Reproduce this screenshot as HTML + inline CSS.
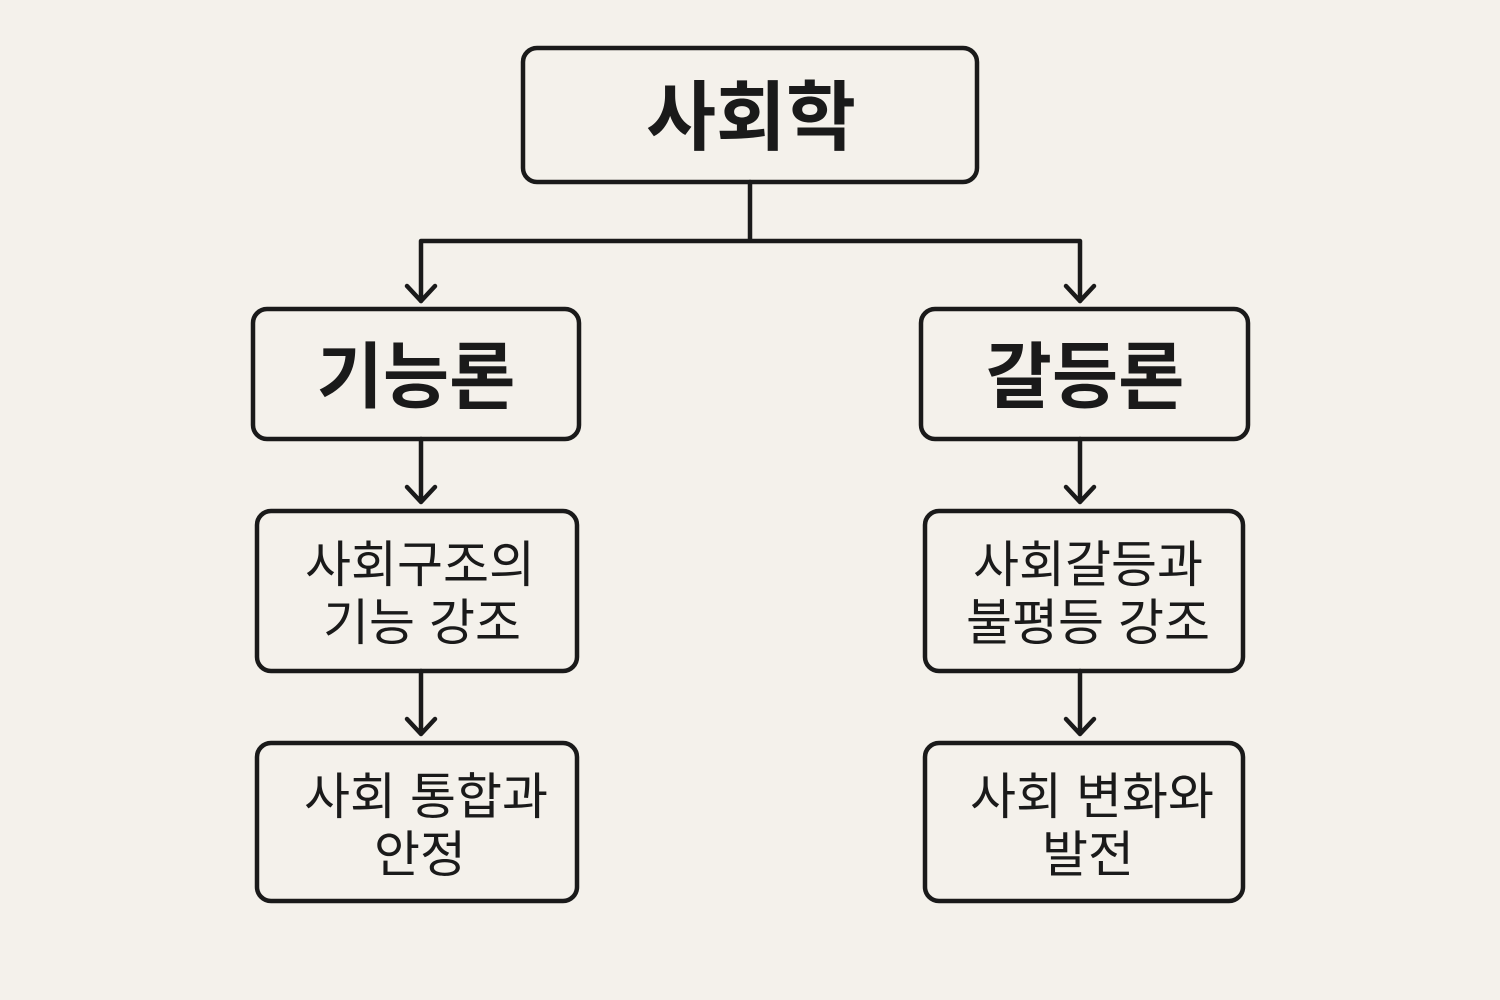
<!DOCTYPE html>
<html><head><meta charset="utf-8"><style>
html,body{margin:0;padding:0;background:#f4f1eb;}
svg{display:block}
text{font-family:"Liberation Sans","Noto Sans CJK KR","NanumGothic",sans-serif;fill:#1a1a1a;text-anchor:middle}
</style></head><body>
<svg width="1500" height="1000" viewBox="0 0 1500 1000">
<rect width="1500" height="1000" fill="#f4f1eb"/>
<g fill="none" stroke="#1a1a1a" stroke-width="4.5" stroke-linecap="round" stroke-linejoin="round">
<rect x="523" y="48" width="454" height="134" rx="14"/>
<rect x="253" y="309" width="326" height="130" rx="14"/>
<rect x="921" y="309" width="327" height="130" rx="14"/>
<rect x="257" y="511" width="320" height="160" rx="14"/>
<rect x="925" y="511" width="318" height="160" rx="14"/>
<rect x="257" y="743" width="320" height="158" rx="14"/>
<rect x="925" y="743" width="318" height="158" rx="14"/>
<path d="M750 182V241M421 241H1080M421 241V301M1080 241V301"/>
<path d="M407 286L421 301L435 286M1066 286L1080 301L1094 286"/>
<path d="M421 439V502M407 487L421 502L435 487"/>
<path d="M1080 439V502M1066 487L1080 502L1094 487"/>
<path d="M421 671V734M407 719L421 734L435 719"/>
<path d="M1080 671V734M1066 719L1080 734L1094 719"/>
</g>
<text x="751" y="144" font-size="76" font-weight="bold">사회학</text>
<text x="416" y="402" font-size="72" font-weight="bold">기능론</text>
<text x="1085" y="402" font-size="72" font-weight="bold">갈등론</text>
<text x="420" y="582" font-size="50">사회구조의</text>
<text x="422" y="640" font-size="50">기능 강조</text>
<text x="1088" y="582" font-size="50">사회갈등과</text>
<text x="1088" y="640" font-size="50">불평등 강조</text>
<text x="426" y="814" font-size="50">사회 통합과</text>
<text x="420" y="872" font-size="50">안정</text>
<text x="1092" y="814" font-size="50">사회 변화와</text>
<text x="1088" y="872" font-size="50">발전</text>
</svg>
</body></html>
